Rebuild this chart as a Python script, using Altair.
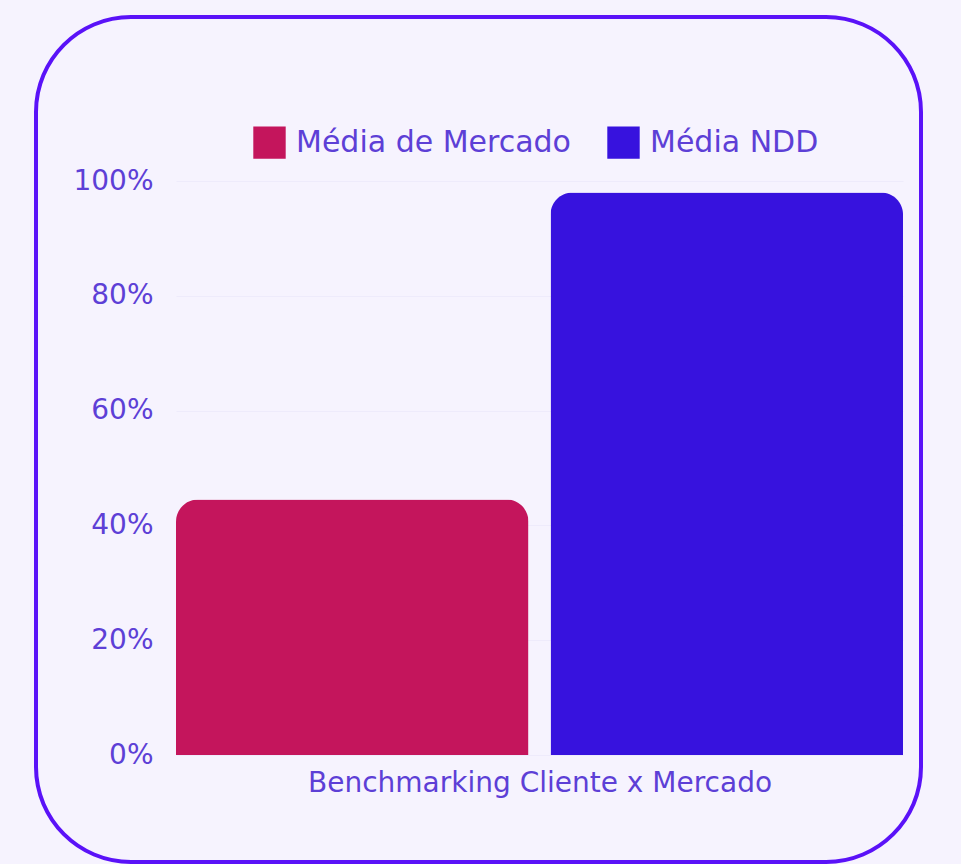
import altair as alt
import pandas as pd

series = ["Média de Mercado", "Média NDD"]
values = [0.445, 0.98]
colors = ["#c4155c", "#3712de"]
x_title = "Benchmarking Cliente x Mercado"
y_ticks = [0, 0.2, 0.4, 0.6, 0.8, 1.0]

df = pd.DataFrame({"series": series, "value": values})

FONT = "DejaVu Sans"
TEXT = "#5d3fd6"

frame = alt.Chart(pd.DataFrame({"k": [0]})).mark_rect(
    fill="#f6f3fe", fillOpacity=0, stroke="#5a12f8", strokeWidth=4, cornerRadius=95
).encode(
    x=alt.value(-140), x2=alt.value(745), y=alt.value(-164), y2=alt.value(681)
)

bars = alt.Chart(df).mark_bar(cornerRadiusTopLeft=22, cornerRadiusTopRight=22).encode(
    x=alt.X("series:N", sort=series,
            scale=alt.Scale(paddingInner=0.059, paddingOuter=0),
            axis=alt.Axis(labels=False, ticks=False, domain=False, title=x_title,
                          titleFont=FONT, titleFontSize=28, titleFontWeight="normal",
                          titleColor=TEXT, titlePadding=14)),
    y=alt.Y("value:Q", scale=alt.Scale(domain=[0, 1]),
            axis=alt.Axis(values=y_ticks, format=".0%", title=None, domain=False, ticks=False,
                          labelFont=FONT, labelFontSize=28, labelColor=TEXT, labelPadding=23,
                          grid=True, gridColor="#eeebfb", gridWidth=1)),
    color=alt.Color("series:N", scale=alt.Scale(domain=series, range=colors),
                    legend=alt.Legend(title=None, orient="none", direction="horizontal",
                                      legendX=77, legendY=-55, symbolType="square",
                                      symbolSize=1050, symbolStrokeWidth=0, symbolOpacity=1,
                                      labelFont=FONT, labelFontSize=30, labelColor=TEXT,
                                      labelLimit=0, labelOffset=10, columnPadding=36, padding=0)),
)

chart = alt.layer(frame, bars).properties(
    width=727, height=574,
    autosize=alt.AutoSizeParams(type="none"),
    padding={"left": 176, "top": 181, "right": 58, "bottom": 109},
    background="#f6f3fe",
).configure_view(stroke=None)

chart.save("out.html", embed_options={"renderer": "svg", "actions": False})
